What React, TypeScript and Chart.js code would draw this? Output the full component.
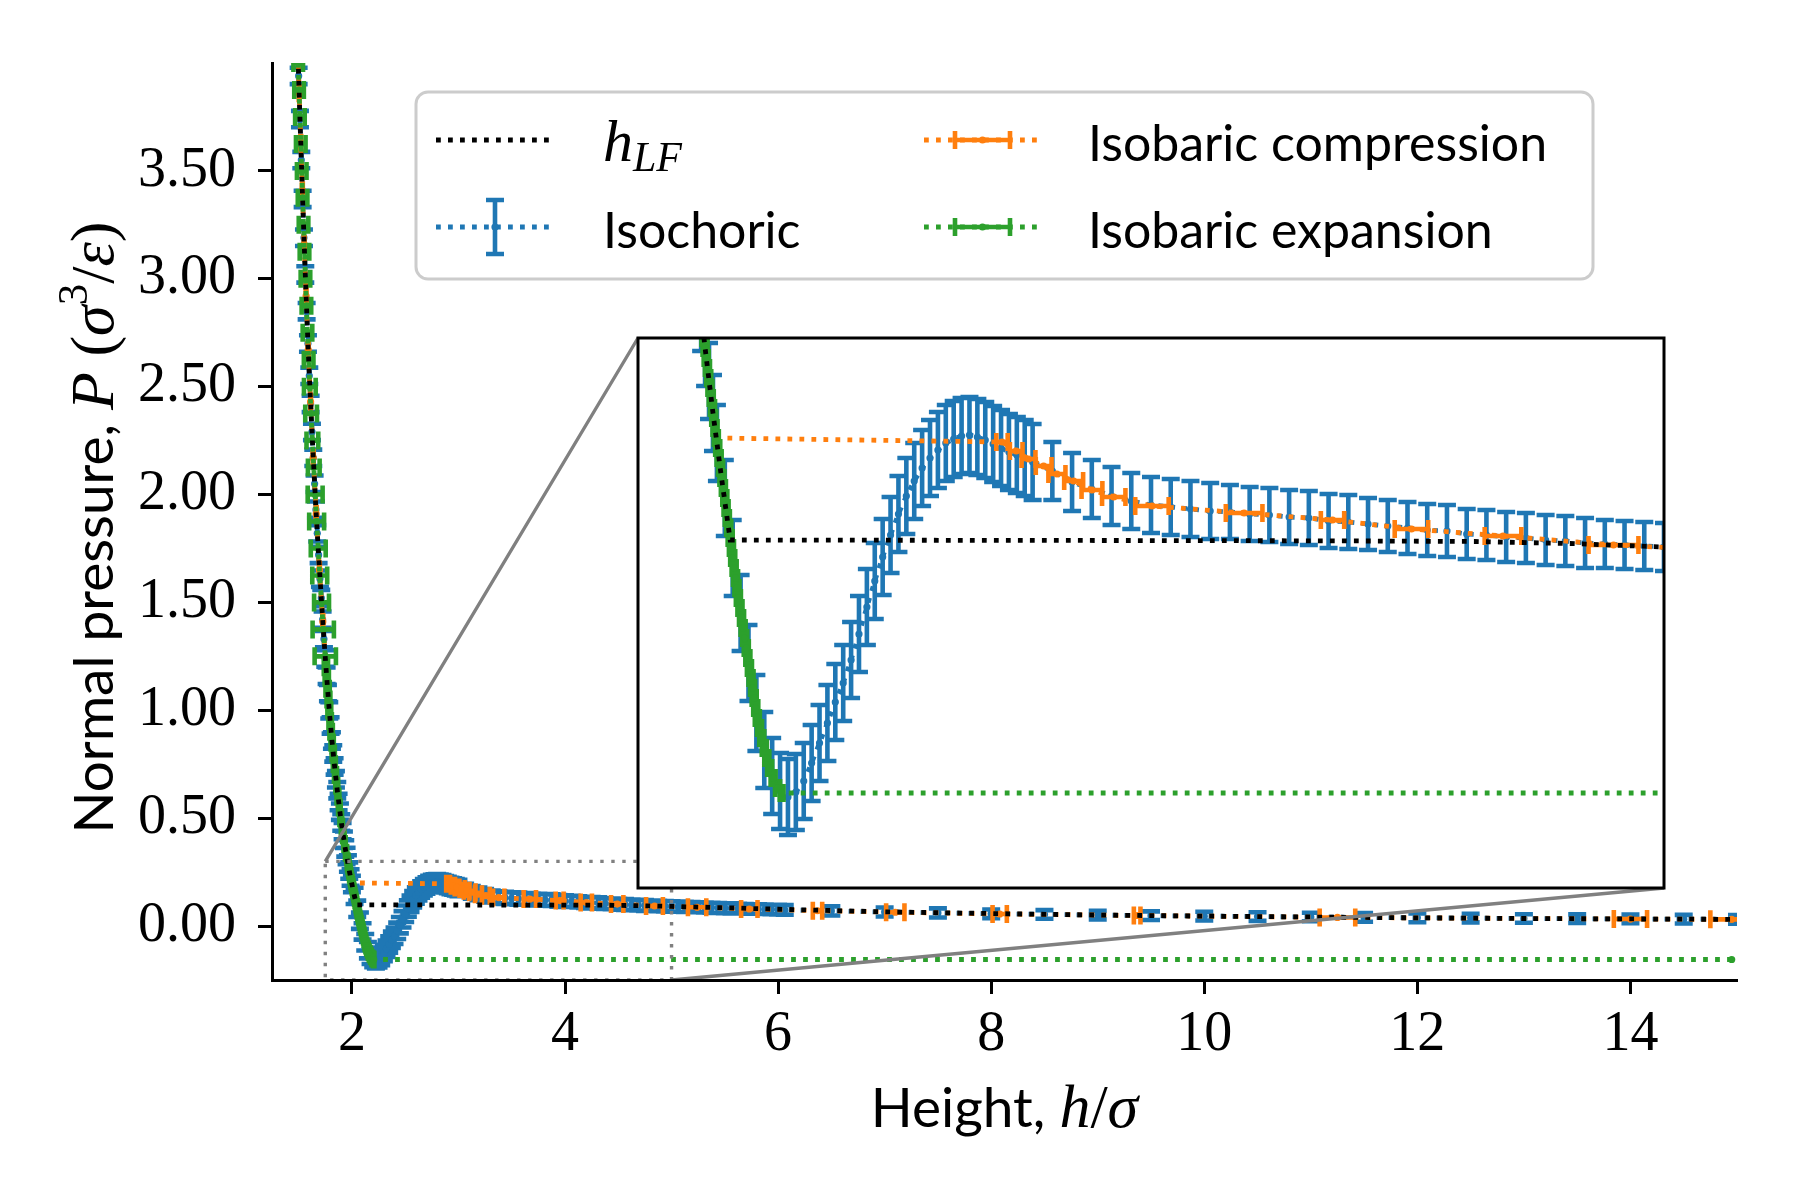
import { useEffect, useRef } from "react";
import { Chart, registerables } from "chart.js";

Chart.register(...registerables);

// ---------------- data (h in sigma, P in sigma^3/epsilon) ----------------
const xTicks = [2, 4, 6, 8, 10, 12, 14];
const yTicks = [0, 0.5, 1, 1.5, 2, 2.5, 3, 3.5];

// isochoric: dense part (steep wall, minimum and maximum)
const isoDenseH = [
  1.4875, 1.5, 1.5125, 1.525, 1.5375, 1.55, 1.5625, 1.575, 1.5875, 1.6,
  1.6125, 1.625, 1.6375, 1.65, 1.6625, 1.675, 1.6875, 1.7, 1.7125, 1.725,
  1.7375, 1.75, 1.7625, 1.775, 1.7875, 1.8, 1.8125, 1.825, 1.8375, 1.85,
  1.8625, 1.875, 1.8875, 1.9, 1.9125, 1.925, 1.9375, 1.95, 1.9625, 1.975,
  1.9875, 2.0, 2.025, 2.05, 2.075, 2.1, 2.125, 2.15, 2.175, 2.2,
  2.225, 2.25, 2.275, 2.3, 2.325, 2.35, 2.375, 2.4, 2.425, 2.45,
  2.475, 2.5, 2.525, 2.55, 2.575, 2.6, 2.625, 2.65, 2.675, 2.7,
  2.725, 2.75, 2.775, 2.8, 2.825, 2.85, 2.875, 2.9, 2.925, 2.95,
  2.975, 3.0,
];
const isoDenseP = [
  4.14, 3.94, 3.74, 3.55, 3.37, 3.19, 3.02, 2.85, 2.7, 2.55,
  2.42, 2.29, 2.17, 2.05, 1.93, 1.82, 1.72, 1.61, 1.52, 1.42,
  1.33, 1.24, 1.16, 1.08, 1.0, 0.93, 0.86, 0.8, 0.74, 0.68,
  0.63, 0.575, 0.53, 0.48, 0.44, 0.4, 0.36, 0.325, 0.29, 0.257,
  0.225, 0.195, 0.14, 0.08, 0.025, -0.025, -0.075, -0.112, -0.138, -0.153,
  -0.159, -0.154, -0.143, -0.125, -0.105, -0.085, -0.064, -0.045, -0.022, 0.004,
  0.031, 0.057, 0.081, 0.103, 0.124, 0.142, 0.157, 0.17, 0.18, 0.188,
  0.195, 0.199, 0.202, 0.203, 0.201, 0.198, 0.194, 0.19, 0.186, 0.183,
  0.18, 0.176,
];
const isoDenseErr = 0.038;

// isochoric: tail up to h = 6
const isoMidH = [
  3.0625, 3.125, 3.1875, 3.25, 3.3125, 3.375, 3.4375, 3.5, 3.5625, 3.625,
  3.6875, 3.75, 3.8125, 3.875, 3.9375, 4.0, 4.0625, 4.125, 4.1875, 4.25,
  4.3125, 4.375, 4.4375, 4.5, 4.5625, 4.625, 4.6875, 4.75, 4.8125, 4.875,
  4.9375, 5.0, 5.0625, 5.125, 5.1875, 5.25, 5.3125, 5.375, 5.4375, 5.5,
  5.5625, 5.625, 5.6875, 5.75, 5.8125, 5.875, 5.9375, 6.0, 6.0625,
];
const isoMidP = [
  0.167, 0.156, 0.149, 0.142, 0.137, 0.133, 0.131, 0.129, 0.127, 0.126,
  0.124, 0.123, 0.121, 0.12, 0.117, 0.116, 0.114, 0.112, 0.11, 0.108,
  0.107, 0.104, 0.103, 0.101, 0.1, 0.098, 0.097, 0.095, 0.094, 0.093,
  0.092, 0.091, 0.09, 0.089, 0.088, 0.087, 0.086, 0.085, 0.084, 0.083,
  0.082, 0.081, 0.08, 0.079, 0.079, 0.078, 0.077, 0.076, 0.075,
];
const isoMidErr = [
  0.029, 0.029, 0.029, 0.029, 0.028, 0.028, 0.028, 0.028, 0.028, 0.027,
  0.027, 0.027, 0.027, 0.027, 0.027, 0.027, 0.026, 0.026, 0.026, 0.026,
  0.026, 0.025, 0.025, 0.025, 0.025, 0.025, 0.025, 0.025, 0.024, 0.024,
  0.024, 0.024, 0.024, 0.024, 0.023, 0.023, 0.023, 0.023, 0.023, 0.023,
  0.023, 0.022, 0.022, 0.022, 0.022, 0.022, 0.022, 0.022, 0.022,
];

// isochoric: sparse far tail
const isoFarH = [6.5, 7, 7.5, 8, 8.5, 9, 9.5, 10, 10.5, 11, 11.5, 12, 12.5, 13, 13.5, 14, 14.5, 15];
const isoFarP = [
  0.07, 0.065, 0.061, 0.057, 0.054, 0.051, 0.048, 0.046, 0.044, 0.042,
  0.04, 0.038, 0.037, 0.035, 0.034, 0.033, 0.032, 0.031,
];
const isoFarErr = [
  0.021, 0.021, 0.021, 0.02, 0.02, 0.02, 0.02, 0.02, 0.02, 0.02,
  0.02, 0.02, 0.02, 0.02, 0.02, 0.02, 0.02, 0.02,
];

// isobaric compression (x error bars)
const compH = [
  1.49, 1.505, 1.52, 1.535, 1.552, 1.57, 1.59, 1.612, 1.637, 1.665,
  1.695, 1.727, 1.762, 1.8, 1.84, 1.88, 1.925, 1.962, 2.0,
  2.903, 2.948, 2.987, 3.035, 3.077, 3.13, 3.188, 3.257, 3.378, 3.67,
  3.95, 4.2, 4.49, 4.84, 5.24, 5.73, 6.37, 7.1, 8.08, 9.37,
  11.25, 14.0, 14.95,
];
const compP = [
  4.1, 3.86, 3.63, 3.41, 3.16, 2.92, 2.67, 2.43, 2.17, 1.91,
  1.65, 1.41, 1.16, 0.93, 0.73, 0.555, 0.4, 0.29, 0.2,
  0.196, 0.187, 0.179, 0.172, 0.164, 0.157, 0.148, 0.141, 0.132, 0.125,
  0.118, 0.109, 0.102, 0.093, 0.087, 0.079, 0.071, 0.064, 0.056, 0.049,
  0.04, 0.0325, 0.031,
];
const compErr = [
  0.004, 0.004, 0.004, 0.004, 0.004, 0.004, 0.004, 0.004, 0.004, 0.004,
  0.004, 0.004, 0.004, 0.004, 0.004, 0.004, 0.004, 0.004, 0.004,
  0.018, 0.02, 0.022, 0.025, 0.027, 0.03, 0.033, 0.037, 0.053, 0.058,
  0.037, 0.053, 0.058, 0.079, 0.086, 0.077, 0.044, 0.086, 0.067, 0.031,
  0.167, 0.156, 0.2,
];

// isobaric expansion (x error bars)
const expH = [
  1.496, 1.504, 1.512, 1.52, 1.529, 1.537, 1.546, 1.555, 1.564, 1.573,
  1.583, 1.594, 1.605, 1.617, 1.629, 1.642, 1.655, 1.669, 1.684, 1.698,
  1.715, 1.731, 1.75,
  1.756, 1.764, 1.772, 1.78, 1.788, 1.796, 1.805, 1.815, 1.825, 1.835,
  1.846, 1.858, 1.869, 1.882, 1.895,
  1.906, 1.919, 1.931, 1.945,
  1.959, 1.9625, 1.966, 1.97, 1.974, 1.978, 1.982, 1.986, 1.99, 1.994,
  1.998, 2.0025, 2.007, 2.0115, 2.016, 2.0205, 2.025, 2.029, 2.033, 2.0375,
  2.042, 2.046, 2.05, 2.0545, 2.059, 2.0635, 2.068, 2.073, 2.078, 2.083,
  2.088, 2.093, 2.098, 2.103, 2.108, 2.113, 2.118, 2.123, 2.128, 2.135,
  2.142, 2.15, 2.158, 2.167, 2.178, 2.192,
  2.205, 14.95,
];
const expP = [
  4.0, 3.875, 3.75, 3.625, 3.5, 3.375, 3.25, 3.125, 3.0, 2.875,
  2.75, 2.625, 2.5, 2.375, 2.25, 2.125, 2.0, 1.875, 1.75, 1.625,
  1.5, 1.375, 1.25,
  1.2, 1.15, 1.1, 1.05, 1.0, 0.95, 0.9, 0.85, 0.8, 0.75,
  0.7, 0.65, 0.6, 0.55, 0.5,
  0.46, 0.42, 0.38, 0.34,
  0.3, 0.29, 0.28, 0.27, 0.26, 0.25, 0.24, 0.23, 0.22, 0.21,
  0.2, 0.19, 0.18, 0.17, 0.16, 0.15, 0.14, 0.13, 0.12, 0.11,
  0.1, 0.09, 0.08, 0.07, 0.06, 0.05, 0.04, 0.03, 0.02, 0.01,
  0.0, -0.01, -0.02, -0.03, -0.04, -0.05, -0.06, -0.07, -0.08, -0.09,
  -0.1, -0.11, -0.12, -0.13, -0.14, -0.15,
  -0.155, -0.155,
];
const expErr = [
  0.045, 0.045, 0.045, 0.045, 0.045, 0.045, 0.045, 0.045, 0.045, 0.045,
  0.045, 0.045, 0.055, 0.055, 0.055, 0.055, 0.07, 0.07, 0.07, 0.07,
  0.07, 0.1, 0.1,
  0.02, 0.02, 0.02, 0.018, 0.018, 0.016, 0.016, 0.015, 0.015, 0.014,
  0.014, 0.013, 0.013, 0.012, 0.012,
  0.01, 0.01, 0.01, 0.01,
  0.008, 0.008, 0.008, 0.008, 0.008, 0.008, 0.008, 0.008, 0.008, 0.008,
  0.008, 0.008, 0.008, 0.008, 0.008, 0.008, 0.008, 0.008, 0.008, 0.008,
  0.008, 0.008, 0.008, 0.008, 0.008, 0.008, 0.008, 0.008, 0.008, 0.008,
  0.008, 0.008, 0.008, 0.008, 0.008, 0.008, 0.008, 0.008, 0.008, 0.008,
  0.008, 0.008, 0.008, 0.008, 0.008, 0.008,
  0.006, 0,
];

// h_LF reference curve
const lfH = [
  1.4875, 1.5125, 1.5375, 1.5625, 1.5875, 1.6125, 1.6375, 1.6625, 1.6875, 1.7125,
  1.7375, 1.7625, 1.7875, 1.8125, 1.8375, 1.8625, 1.8875, 1.9125, 1.9375, 1.9625,
  1.9875, 2.0125, 2.042, 2.5, 3.0, 3.5, 4.0, 4.4, 4.7, 5.0,
  5.5, 6.0, 7.0, 8.0, 9.0, 10.0, 11.0, 12.0, 13.0, 14.0, 15.0,
];
const lfP = [
  4.14, 3.74, 3.37, 3.02, 2.7, 2.42, 2.17, 1.93, 1.72, 1.52,
  1.33, 1.16, 1.0, 0.86, 0.74, 0.63, 0.53, 0.44, 0.36, 0.29,
  0.225, 0.165, 0.098, 0.0978, 0.0976, 0.0974, 0.0971, 0.0965, 0.0945, 0.091,
  0.085, 0.078, 0.066, 0.058, 0.051, 0.046, 0.042, 0.038, 0.035, 0.033, 0.031,
];

const MAIN_X = [1.25, 15];
const MAIN_Y = [-0.25, 4.0];
const ZOOM_X = [1.75, 5];
const ZOOM_Y = [-0.25, 0.3];
const INSET_BOX = [0.25, 0.1, 0.7, 0.6]; // x0, y0, w, h in axes fraction

// ---------------- styles ----------------
const BLUE = "#1f77b4";
const ORANGE = "#ff7f0e";
const GREEN = "#2ca02c";
const GRAY = "#808080";
const LW = 4.8;
const DOT = [4.8, 7.2];
const ELW = 4.6;
const CAP = 9;
const MARK_R = 3.6;
const M = 4; // margin round the inset canvas for its frame

const SANS = "Lato, 'Noto Sans', sans-serif";
const SERIF = "'Liberation Serif', 'DejaVu Serif', serif";

type Pt = { x: number; y: number };
type Run = { t: string; f: string; dy?: number };

function pts(h: number[], p: number[]): Pt[] {
  return h.map((x, i) => ({ x, y: p[i] }));
}

function makeDatasets() {
  const isoH = [...isoDenseH, ...isoMidH, ...isoFarH];
  const isoP = [...isoDenseP, ...isoMidP, ...isoFarP];
  const isoE = [...isoDenseH.map(() => isoDenseErr), ...isoMidErr, ...isoFarErr];
  const style = (color: string) => ({
    showLine: true,
    borderColor: color,
    backgroundColor: color,
    borderWidth: LW,
    borderDash: DOT,
    borderCapStyle: "butt" as const,
    pointRadius: MARK_R,
    pointBackgroundColor: color,
    pointBorderWidth: 0,
    pointHoverRadius: MARK_R,
  });
  // first dataset is drawn on top in Chart.js
  return [
    { label: "h_LF", data: pts(lfH, lfP), ...style("#000000"), pointRadius: 0 },
    { label: "Isobaric expansion", data: pts(expH, expP), errX: expErr, ...style(GREEN) },
    { label: "Isobaric compression", data: pts(compH, compP), errX: compErr, ...style(ORANGE) },
    { label: "Isochoric", data: pts(isoH, isoP), errY: isoE, ...style(BLUE) },
  ];
}

function insetRect(a: { left: number; right: number; top: number; bottom: number }) {
  const w = a.right - a.left;
  const h = a.bottom - a.top;
  return {
    left: Math.round(a.left + INSET_BOX[0] * w),
    right: Math.round(a.left + (INSET_BOX[0] + INSET_BOX[2]) * w),
    top: Math.round(a.bottom - (INSET_BOX[1] + INSET_BOX[3]) * h),
    bottom: Math.round(a.bottom - INSET_BOX[1] * h),
  };
}

// error bars, drawn just before each dataset's line and markers
const errorBars = {
  id: "errorBars",
  beforeDatasetDraw(chart: any, args: any) {
    const ds: any = chart.data.datasets[args.index];
    if (!ds.errX && !ds.errY) return;
    const { ctx, chartArea: a } = chart;
    const xs = chart.scales.x;
    const ys = chart.scales.y;
    ctx.save();
    ctx.beginPath();
    ctx.rect(a.left, a.top, a.right - a.left, a.bottom - a.top);
    ctx.clip();
    ctx.strokeStyle = ds.borderColor;
    ctx.lineWidth = ELW;
    ctx.setLineDash([]);
    ctx.lineCap = "butt";
    ctx.beginPath();
    (ds.data as Pt[]).forEach((p, i) => {
      const px = xs.getPixelForValue(p.x);
      const py = ys.getPixelForValue(p.y);
      if (ds.errY) {
        const e = ds.errY[i];
        const y1 = ys.getPixelForValue(p.y - e);
        const y2 = ys.getPixelForValue(p.y + e);
        ctx.moveTo(px, y1);
        ctx.lineTo(px, y2);
        ctx.moveTo(px - CAP, y1);
        ctx.lineTo(px + CAP, y1);
        ctx.moveTo(px - CAP, y2);
        ctx.lineTo(px + CAP, y2);
      } else {
        const e = ds.errX[i];
        if (!e) return;
        const x1 = xs.getPixelForValue(p.x - e);
        const x2 = xs.getPixelForValue(p.x + e);
        ctx.moveTo(x1, py);
        ctx.lineTo(x2, py);
        ctx.moveTo(x1, py - CAP);
        ctx.lineTo(x1, py + CAP);
        ctx.moveTo(x2, py - CAP);
        ctx.lineTo(x2, py + CAP);
      }
    });
    ctx.stroke();
    ctx.restore();
  },
};

function drawRuns(ctx: CanvasRenderingContext2D, runs: Run[], x: number, y: number, center = false) {
  let w = 0;
  for (const r of runs) {
    ctx.font = r.f;
    w += ctx.measureText(r.t).width;
  }
  let cx = center ? x - w / 2 : x;
  ctx.textAlign = "left";
  ctx.textBaseline = "alphabetic";
  for (const r of runs) {
    ctx.font = r.f;
    ctx.fillText(r.t, cx, y + (r.dy || 0));
    cx += ctx.measureText(r.t).width;
  }
}

function dotted(ctx: CanvasRenderingContext2D, color: string, x1: number, x2: number, y: number) {
  ctx.save();
  ctx.strokeStyle = color;
  ctx.lineWidth = LW;
  ctx.lineCap = "butt";
  ctx.setLineDash(DOT);
  ctx.beginPath();
  ctx.moveTo(x1, y);
  ctx.lineTo(x2, y);
  ctx.stroke();
  ctx.restore();
}

function marker(ctx: CanvasRenderingContext2D, color: string, x: number, y: number) {
  ctx.fillStyle = color;
  ctx.beginPath();
  ctx.arc(x, y, MARK_R, 0, Math.PI * 2);
  ctx.fill();
}

function drawLegend(ctx: CanvasRenderingContext2D) {
  const row1 = 140;
  const row2 = 227;
  ctx.save();
  ctx.beginPath();
  ctx.roundRect(416, 92, 1177, 187, 12);
  ctx.fillStyle = "rgba(255,255,255,0.8)";
  ctx.fill();
  ctx.strokeStyle = "#cccccc";
  ctx.lineWidth = 3;
  ctx.stroke();

  // h_LF
  dotted(ctx, "#000000", 436, 554, row1);
  // isochoric: vertical error bar
  dotted(ctx, BLUE, 436, 554, row2);
  ctx.strokeStyle = BLUE;
  ctx.lineWidth = ELW;
  ctx.beginPath();
  ctx.moveTo(495, row2 - 27);
  ctx.lineTo(495, row2 + 27);
  ctx.moveTo(495 - CAP, row2 - 27);
  ctx.lineTo(495 + CAP, row2 - 27);
  ctx.moveTo(495 - CAP, row2 + 27);
  ctx.lineTo(495 + CAP, row2 + 27);
  ctx.stroke();
  marker(ctx, BLUE, 495, row2);
  // isobaric: horizontal error bars
  const hbar = (color: string, y: number) => {
    dotted(ctx, color, 924, 1041, y);
    ctx.strokeStyle = color;
    ctx.lineWidth = ELW;
    ctx.beginPath();
    ctx.moveTo(955, y);
    ctx.lineTo(1010, y);
    ctx.moveTo(955, y - CAP);
    ctx.lineTo(955, y + CAP);
    ctx.moveTo(1010, y - CAP);
    ctx.lineTo(1010, y + CAP);
    ctx.stroke();
    marker(ctx, color, 982.5, y);
  };
  hbar(ORANGE, row1);
  hbar(GREEN, row2);

  ctx.fillStyle = "#000000";
  drawRuns(ctx, [
    { t: "h", f: `italic 60px ${SERIF}` },
    { t: "LF", f: `italic 42px ${SERIF}`, dy: 10 },
  ], 603, row1 + 21);
  drawRuns(ctx, [{ t: "Isochoric", f: `50px ${SANS}` }], 603, row2 + 21);
  drawRuns(ctx, [{ t: "Isobaric compression", f: `50px ${SANS}` }], 1088, row1 + 21);
  drawRuns(ctx, [{ t: "Isobaric expansion", f: `50px ${SANS}` }], 1088, row2 + 21);
  ctx.restore();
}

const mainDecor = {
  id: "mainDecor",
  afterDatasetsDraw(chart: any) {
    const { ctx, chartArea: a } = chart;
    const xs = chart.scales.x;
    const ys = chart.scales.y;
    const r = insetRect(a);
    const x0 = xs.getPixelForValue(ZOOM_X[0]);
    const x1 = xs.getPixelForValue(ZOOM_X[1]);
    const yb = ys.getPixelForValue(ZOOM_Y[0]);
    const yt = ys.getPixelForValue(ZOOM_Y[1]);
    ctx.save();
    ctx.strokeStyle = GRAY;
    ctx.lineWidth = 3.4;
    ctx.lineCap = "butt";
    ctx.setLineDash([3.4, 7.6]);
    ctx.strokeRect(x0, yt, x1 - x0, yb - yt);
    ctx.setLineDash([]);
    ctx.beginPath();
    ctx.moveTo(x0, yt);
    ctx.lineTo(r.left, r.top);
    ctx.moveTo(x1, yb);
    ctx.lineTo(r.right, r.bottom);
    ctx.stroke();
    ctx.restore();
  },
  afterDraw(chart: any) {
    const { ctx, chartArea: a } = chart;
    ctx.save();
    ctx.fillStyle = "#000000";
    // x title
    drawRuns(ctx, [
      { t: "Height, ", f: `55px ${SANS}` },
      { t: "h", f: `italic 62px ${SERIF}` },
      { t: "/", f: `62px ${SERIF}` },
      { t: "σ", f: `italic 62px ${SERIF}` },
    ], (a.left + a.right) / 2, 1127, true);
    // y title
    ctx.translate(113, (a.top + a.bottom) / 2 + 6);
    ctx.rotate(-Math.PI / 2);
    drawRuns(ctx, [
      { t: "Normal pressure, ", f: `55px ${SANS}` },
      { t: "P", f: `italic 62px ${SERIF}` },
      { t: " (", f: `62px ${SERIF}` },
      { t: "σ", f: `italic 62px ${SERIF}` },
      { t: "3", f: `43px ${SERIF}`, dy: -26 },
      { t: "/", f: `62px ${SERIF}` },
      { t: "ε", f: `italic 62px ${SERIF}` },
      { t: ")", f: `62px ${SERIF}` },
    ], 0, 0, true);
    ctx.restore();
    drawLegend(ctx);
  },
};

const insetFrame = {
  id: "insetFrame",
  beforeDraw(chart: any) {
    const { ctx, chartArea: a } = chart;
    ctx.save();
    ctx.fillStyle = "#ffffff";
    ctx.fillRect(a.left, a.top, a.right - a.left, a.bottom - a.top);
    ctx.restore();
  },
  afterDraw(chart: any) {
    const { ctx, chartArea: a } = chart;
    ctx.save();
    ctx.strokeStyle = "#000000";
    ctx.lineWidth = 3;
    ctx.strokeRect(a.left, a.top, a.right - a.left, a.bottom - a.top);
    ctx.restore();
  },
};

const tickFont = { family: SERIF, size: 56 };

export default function App() {
  const mainRef = useRef<HTMLCanvasElement>(null);
  const insetRef = useRef<HTMLCanvasElement>(null);

  useEffect(() => {
    if (!mainRef.current || !insetRef.current) return;

    const main = new Chart(mainRef.current, {
      type: "scatter",
      data: { datasets: makeDatasets() as any },
      options: {
        animation: false,
        responsive: false,
        devicePixelRatio: 1,
        events: [],
        layout: { padding: { left: 0, top: 63, right: 63, bottom: 110 } },
        plugins: { legend: { display: false }, tooltip: { enabled: false } },
        scales: {
          x: {
            type: "linear",
            min: MAIN_X[0],
            max: MAIN_X[1],
            afterBuildTicks: (s: any) => {
              s.ticks = xTicks.map((v) => ({ value: v }));
            },
            afterFit: (s: any) => {
              s.height = 110;
            },
            grid: { drawOnChartArea: false, drawTicks: true, tickLength: 14, tickWidth: 3, tickColor: "#000" },
            border: { display: true, color: "#000", width: 3, z: 1 },
            ticks: {
              font: tickFont,
              color: "#000",
              padding: 8,
              maxRotation: 0,
              autoSkip: false,
              callback: (v: any) => String(v),
            },
          },
          y: {
            type: "linear",
            min: MAIN_Y[0],
            max: MAIN_Y[1],
            afterBuildTicks: (s: any) => {
              s.ticks = yTicks.map((v) => ({ value: v }));
            },
            afterFit: (s: any) => {
              s.width = 272;
            },
            grid: { drawOnChartArea: false, drawTicks: true, tickLength: 14, tickWidth: 3, tickColor: "#000" },
            border: { display: true, color: "#000", width: 3, z: 1 },
            ticks: {
              font: tickFont,
              color: "#000",
              padding: 22,
              autoSkip: false,
              callback: (v: any) => Number(v).toFixed(2),
            },
          },
        },
      },
      plugins: [errorBars, mainDecor],
    });

    const r = insetRect(main.chartArea);
    const cv = insetRef.current;
    const w = r.right - r.left + 2 * M;
    const h = r.bottom - r.top + 2 * M;
    cv.width = w;
    cv.height = h;
    cv.style.left = `${r.left - M}px`;
    cv.style.top = `${r.top - M}px`;
    cv.style.width = `${w}px`;
    cv.style.height = `${h}px`;

    const inset = new Chart(cv, {
      type: "scatter",
      data: { datasets: makeDatasets() as any },
      options: {
        animation: false,
        responsive: false,
        devicePixelRatio: 1,
        events: [],
        layout: { padding: M },
        plugins: { legend: { display: false }, tooltip: { enabled: false } },
        scales: {
          x: { type: "linear", min: ZOOM_X[0], max: ZOOM_X[1], display: false },
          y: { type: "linear", min: ZOOM_Y[0], max: ZOOM_Y[1], display: false },
        },
      },
      plugins: [errorBars, insetFrame],
    });

    return () => {
      inset.destroy();
      main.destroy();
    };
  }, []);

  return (
    <div style={{ position: "absolute", left: 0, top: 0, width: 1800, height: 1200, background: "#ffffff" }}>
      <canvas
        ref={mainRef}
        width={1800}
        height={1200}
        style={{ position: "absolute", left: 0, top: 0, width: 1800, height: 1200 }}
      />
      <canvas ref={insetRef} style={{ position: "absolute" }} />
    </div>
  );
}
